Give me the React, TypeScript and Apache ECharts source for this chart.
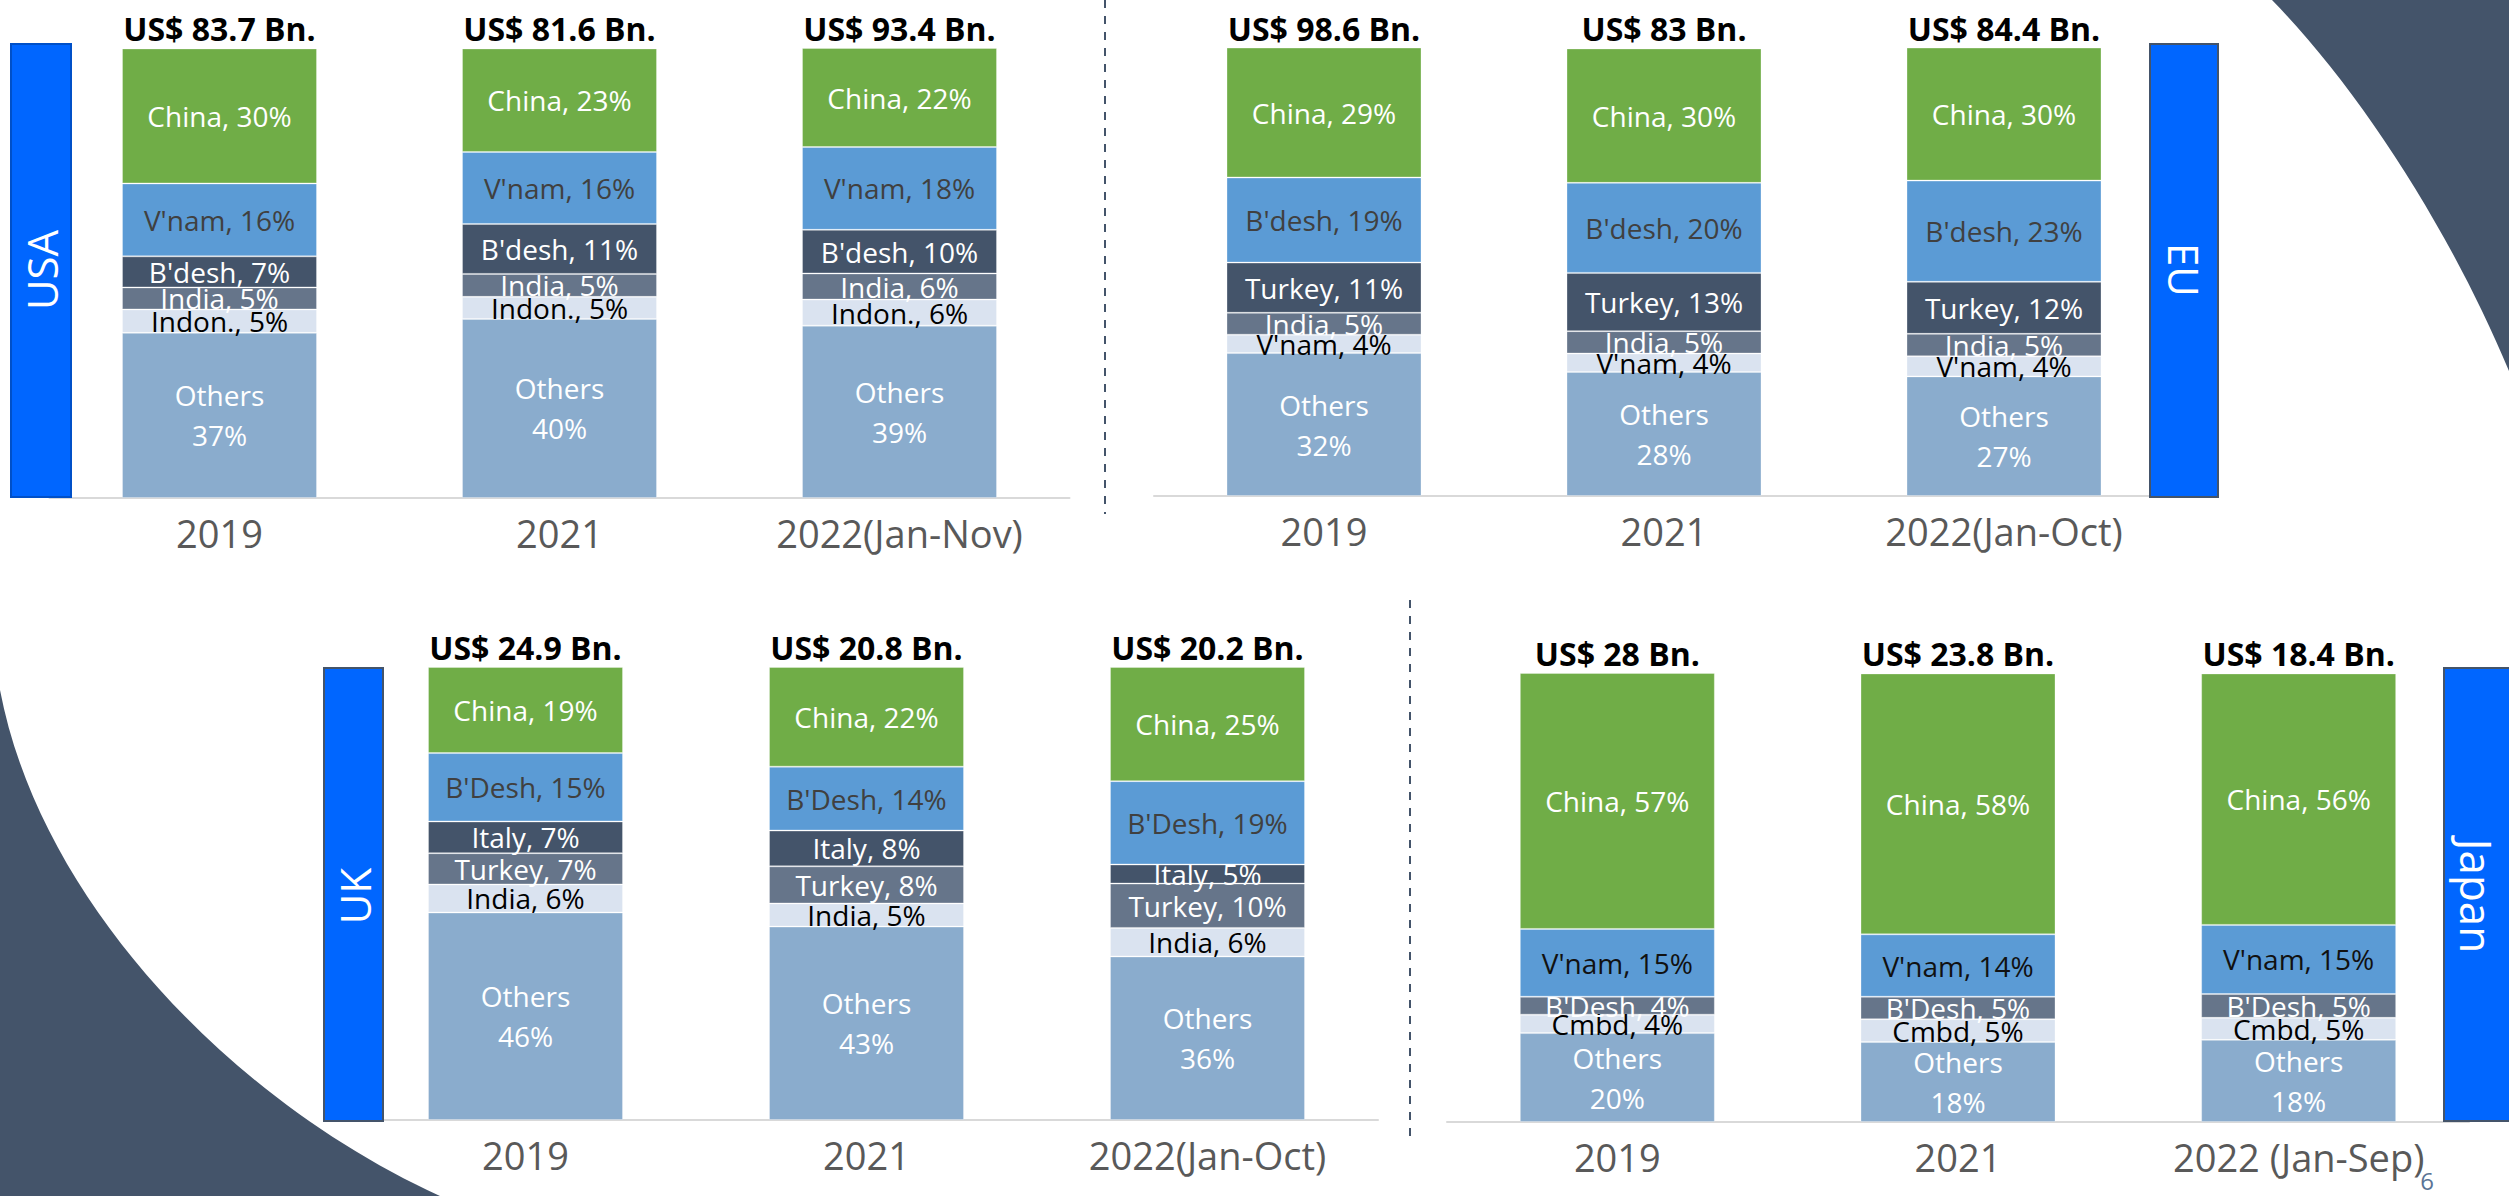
import React, { useEffect, useRef } from "react";
import * as echarts from "echarts";

const FONT = "'Open Sans', 'Noto Sans', sans-serif";

// ---------- USA ----------
const usaYears = ["2019", "2021", "2022(Jan-Nov)"];
const usaTotals = ["US$ 83.7 Bn.", "US$ 81.6 Bn.", "US$ 93.4 Bn."];
const usaChina = [30.0, 23.0, 22.0];
const usaChinaPct = [30, 23, 22];
const usaVnam = [16.2, 16.0, 18.4];
const usaVnamPct = [16, 16, 18];
const usaBdesh = [6.9, 11.1, 9.7];
const usaBdeshPct = [7, 11, 10];
const usaIndia = [4.9, 5.1, 5.8];
const usaIndiaPct = [5, 5, 6];
const usaIndon = [5.2, 4.9, 5.8];
const usaIndonPct = [5, 5, 6];
const usaOthers = [36.7, 39.8, 38.3];
const usaOthersPct = [37, 40, 39];

// ---------- EU ----------
const euYears = ["2019", "2021", "2022(Jan-Oct)"];
const euTotals = ["US$ 98.6 Bn.", "US$ 83 Bn.", "US$ 84.4 Bn."];
const euChina = [29.0, 30.0, 29.7];
const euChinaPct = [29, 30, 30];
const euBdesh = [19.0, 20.1, 22.6];
const euBdeshPct = [19, 20, 23];
const euTurkey = [11.2, 13.0, 11.6];
const euTurkeyPct = [11, 13, 12];
const euIndia = [4.9, 5.0, 5.0];
const euIndiaPct = [5, 5, 5];
const euVnam = [4.1, 4.1, 4.5];
const euVnamPct = [4, 4, 4];
const euOthers = [31.9, 27.7, 26.7];
const euOthersPct = [32, 28, 27];

// ---------- UK ----------
const ukYears = ["2019", "2021", "2022(Jan-Oct)"];
const ukTotals = ["US$ 24.9 Bn.", "US$ 20.8 Bn.", "US$ 20.2 Bn."];
const ukChina = [19.0, 22.0, 25.2];
const ukChinaPct = [19, 22, 25];
const ukBdesh = [15.1, 14.1, 18.4];
const ukBdeshPct = [15, 14, 19];
const ukItaly = [7.0, 7.9, 4.2];
const ukItalyPct = [7, 8, 5];
const ukTurkey = [6.9, 8.2, 9.8];
const ukTurkeyPct = [7, 8, 10];
const ukIndia = [6.2, 5.1, 6.3];
const ukIndiaPct = [6, 5, 6];
const ukOthers = [45.8, 42.7, 36.1];
const ukOthersPct = [46, 43, 36];

// ---------- Japan ----------
const jpYears = ["2019", "2021", "2022 (Jan-Sep)"];
const jpTotals = ["US$ 28 Bn.", "US$ 23.8 Bn.", "US$ 18.4 Bn."];
const jpChina = [57.0, 58.1, 56.0];
const jpChinaPct = [57, 58, 56];
const jpVnam = [15.1, 13.9, 15.4];
const jpVnamPct = [15, 14, 15];
const jpBdesh = [4.0, 5.0, 5.3];
const jpBdeshPct = [4, 5, 5];
const jpCmbd = [4.1, 5.1, 4.9];
const jpCmbdPct = [4, 5, 5];
const jpOthers = [19.8, 17.8, 18.3];
const jpOthersPct = [20, 18, 18];

const C_GREEN = "#70AD47";
const C_BLUE = "#5B9BD5";
const C_DARK = "#44546A";
const C_MID = "#66758A";
const C_LIGHT = "#DAE3F0";
const C_OTHERS = "#8AACCD";

echarts.graphic.registerShape(
  "cornerTR",
  echarts.graphic.extendPath("M2272 0 C2360 90 2450 230 2509 371 L2509 0 Z", {})
);
echarts.graphic.registerShape(
  "cornerBL",
  echarts.graphic.extendPath("M0 690 C40 900 230 1100 440 1196 L0 1196 Z", {})
);

function layer(
  panel: number,
  name: string,
  values: number[],
  pcts: number[],
  color: string,
  textColor: string,
  isOthers = false
) {
  return {
    type: "bar",
    name: name + "-" + panel,
    xAxisIndex: panel * 2,
    yAxisIndex: panel,
    stack: "s" + panel,
    barWidth: 195,
    data: values,
    silent: true,
    itemStyle: { color, borderColor: "rgba(255,255,255,0.3)", borderWidth: 1 },
    label: {
      show: true,
      position: "inside",
      color: textColor,
      fontSize: 28,
      fontFamily: FONT,
      lineHeight: isOthers ? 40 : 28,
      formatter: (p: any) =>
        isOthers ? `Others\n${pcts[p.dataIndex]}%` : `${name}, ${pcts[p.dataIndex]}%`,
    },
  };
}

const grids = [
  { left: 49.5, top: 48, width: 1020, height: 450 },
  { left: 1154, top: 48, width: 1020, height: 448 },
  { left: 355, top: 667, width: 1023, height: 453 },
  { left: 1447, top: 673, width: 1022, height: 449 },
];
const yearsList = [usaYears, euYears, ukYears, jpYears];
const totalsList = [usaTotals, euTotals, ukTotals, jpTotals];

function buildOption() {
  const xAxis: any[] = [];
  const yAxis: any[] = [];
  grids.forEach((_, i) => {
    xAxis.push({
      type: "category",
      gridIndex: i,
      data: yearsList[i],
      position: "bottom",
      axisTick: { show: false },
      axisLine: { show: true, lineStyle: { color: "#D9D9D9", width: 2 } },
      axisLabel: {
        interval: 0,
        fontSize: 38,
        lineHeight: 38,
        margin: 16,
        color: "#595959",
        fontFamily: FONT,
      },
    });
    xAxis.push({
      type: "category",
      gridIndex: i,
      data: totalsList[i],
      position: "top",
      axisTick: { show: false },
      axisLine: { show: false },
      axisLabel: {
        interval: 0,
        fontSize: 32,
        lineHeight: 32,
        margin: 4,
        fontWeight: "bold",
        color: "#000000",
        fontFamily: FONT,
      },
    });
    yAxis.push({ type: "value", gridIndex: i, min: 0, max: 100, show: false });
  });

  const series: any[] = [
    // USA
    layer(0, "Others", usaOthers, usaOthersPct, C_OTHERS, "#FFFFFF", true),
    layer(0, "Indon.", usaIndon, usaIndonPct, C_LIGHT, "#000000"),
    layer(0, "India", usaIndia, usaIndiaPct, C_MID, "#FFFFFF"),
    layer(0, "B'desh", usaBdesh, usaBdeshPct, C_DARK, "#FFFFFF"),
    layer(0, "V'nam", usaVnam, usaVnamPct, C_BLUE, "#404040"),
    layer(0, "China", usaChina, usaChinaPct, C_GREEN, "#FFFFFF"),
    // EU
    layer(1, "Others", euOthers, euOthersPct, C_OTHERS, "#FFFFFF", true),
    layer(1, "V'nam", euVnam, euVnamPct, C_LIGHT, "#000000"),
    layer(1, "India", euIndia, euIndiaPct, C_MID, "#FFFFFF"),
    layer(1, "Turkey", euTurkey, euTurkeyPct, C_DARK, "#FFFFFF"),
    layer(1, "B'desh", euBdesh, euBdeshPct, C_BLUE, "#404040"),
    layer(1, "China", euChina, euChinaPct, C_GREEN, "#FFFFFF"),
    // UK
    layer(2, "Others", ukOthers, ukOthersPct, C_OTHERS, "#FFFFFF", true),
    layer(2, "India", ukIndia, ukIndiaPct, C_LIGHT, "#000000"),
    layer(2, "Turkey", ukTurkey, ukTurkeyPct, C_MID, "#FFFFFF"),
    layer(2, "Italy", ukItaly, ukItalyPct, C_DARK, "#FFFFFF"),
    layer(2, "B'Desh", ukBdesh, ukBdeshPct, C_BLUE, "#404040"),
    layer(2, "China", ukChina, ukChinaPct, C_GREEN, "#FFFFFF"),
    // Japan
    layer(3, "Others", jpOthers, jpOthersPct, C_OTHERS, "#FFFFFF", true),
    layer(3, "Cmbd", jpCmbd, jpCmbdPct, C_LIGHT, "#000000"),
    layer(3, "B'Desh", jpBdesh, jpBdeshPct, C_MID, "#FFFFFF"),
    layer(3, "V'nam", jpVnam, jpVnamPct, C_BLUE, "#111111"),
    layer(3, "China", jpChina, jpChinaPct, C_GREEN, "#FFFFFF"),
  ];

  const boxText = (text: string, x: number, y: number, rot: number, size: number) => ({
    type: "text",
    x,
    y,
    rotation: rot,
    z: 20,
    style: {
      text,
      fill: "#FFFFFF",
      fontSize: size,
      fontFamily: FONT,
      textAlign: "center",
      textVerticalAlign: "middle",
    },
  });

  const graphic: any[] = [
    { type: "cornerTR", x: 0, y: 0, scaleX: 1, scaleY: 1, z: 1, style: { fill: "#44546A" } },
    { type: "cornerBL", x: 0, y: 0, scaleX: 1, scaleY: 1, z: 1, style: { fill: "#44546A" } },
    {
      type: "line",
      z: 5,
      shape: { x1: 1105, y1: 0, x2: 1105, y2: 514 },
      style: { stroke: "#44546A", lineWidth: 2, lineDash: [8, 8] },
    },
    {
      type: "line",
      z: 5,
      shape: { x1: 1410, y1: 600, x2: 1410, y2: 1137 },
      style: { stroke: "#44546A", lineWidth: 2, lineDash: [8, 8] },
    },
    {
      type: "rect",
      z: 10,
      shape: { x: 11, y: 44, width: 60, height: 453 },
      style: { fill: "#0066FF", stroke: "#0050C8", lineWidth: 2 },
    },
    {
      type: "rect",
      z: 10,
      shape: { x: 2150, y: 44, width: 68, height: 453 },
      style: { fill: "#0066FF", stroke: "#44546A", lineWidth: 2 },
    },
    {
      type: "rect",
      z: 10,
      shape: { x: 324, y: 668, width: 59, height: 453 },
      style: { fill: "#0066FF", stroke: "#44546A", lineWidth: 2 },
    },
    {
      type: "rect",
      z: 10,
      shape: { x: 2444, y: 668, width: 80, height: 453 },
      style: { fill: "#0066FF", stroke: "#44546A", lineWidth: 2 },
    },
    boxText("USA", 41, 270, Math.PI / 2, 42),
    boxText("EU", 2184, 270, -Math.PI / 2, 42),
    boxText("UK", 354, 896, Math.PI / 2, 42),
    boxText("Japan", 2477, 896, -Math.PI / 2, 44),
    {
      type: "text",
      x: 2427,
      y: 1180,
      z: 20,
      style: {
        text: "6",
        fill: "#5A7496",
        fontSize: 24,
        fontFamily: FONT,
        textAlign: "center",
        textVerticalAlign: "middle",
      },
    },
  ];

  return {
    animation: false,
    backgroundColor: "#FFFFFF",
    grid: grids,
    xAxis,
    yAxis,
    series,
    graphic,
  };
}

export default function App() {
  const ref = useRef<HTMLDivElement>(null);
  useEffect(() => {
    if (!ref.current) return;
    const chart = echarts.init(ref.current, undefined, { renderer: "svg" });
    chart.setOption(buildOption() as any);
    return () => chart.dispose();
  }, []);
  return (
    <div
      ref={ref}
      style={{ position: "absolute", left: 0, top: 0, width: 2509, height: 1196 }}
    />
  );
}
